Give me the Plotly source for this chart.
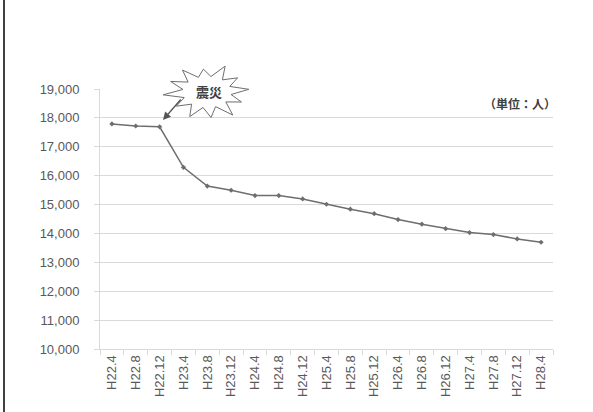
import numpy as np
import plotly.graph_objects as go

# Survey points (Heisei year.month) and population counts
periods = ["H22.4", "H22.8", "H22.12", "H23.4", "H23.8", "H23.12", "H24.4", "H24.8",
           "H24.12", "H25.4", "H25.8", "H25.12", "H26.4", "H26.8", "H26.12", "H27.4",
           "H27.8", "H27.12", "H28.4"]
population = [17790, 17720, 17690, 16290, 15640, 15495, 15310, 15310,
              15195, 15010, 14840, 14685, 14480, 14320, 14165, 14030,
              13960, 13810, 13695]
y_ticks = [10000, 11000, 12000, 13000, 14000, 15000, 16000, 17000, 18000, 19000]

W, H = 593, 412
L, R, T, B = 100, 40, 89, 63
pw, ph = W - L - R, H - T - B


def px(x):
    return (x - L) / pw


def py(y):
    return (H - B - y) / ph


grey_text = "#595959"
grid = "#d9d9d9"
tick_font = dict(family="Liberation Sans, Arial, sans-serif", size=13, color=grey_text)
jp_font = "Noto Sans CJK JP"

fig = go.Figure()
fig.add_trace(go.Scatter(
    x=periods, y=population, mode="lines+markers",
    line=dict(color="#6e6e6e", width=1.5),
    marker=dict(color="#6e6e6e", size=4, symbol="diamond"),
    showlegend=False, hoverinfo="x+y",
))

# starburst callout marking the earthquake
cx, cy = 207, 92
n = 12
outer_r = np.array([1.0, 0.9, 1.05, 0.85, 1.0, 0.95, 1.05, 0.9, 1.0, 0.95, 1.05, 0.9])
ang = np.linspace(0, 2 * np.pi, 2 * n, endpoint=False) + 0.1
pts = []
for i, a in enumerate(ang):
    r = outer_r[i // 2] if i % 2 == 0 else 0.58
    pts.append((cx + 42 * r * np.cos(a), cy - 27 * r * np.sin(a)))
path = "M " + " L ".join(f"{px(x):.4f},{py(y):.4f}" for x, y in pts) + " Z"
fig.add_shape(type="path", xref="paper", yref="paper", path=path,
              line=dict(color="#6e6e6e", width=1), fillcolor="white", layer="above")
fig.add_annotation(xref="paper", yref="paper", x=px(cx), y=py(cy), text="<b>震災</b>",
                   showarrow=False, xshift=-13, yshift=12,
                   font=dict(family=jp_font, size=13, color="#404040"))
fig.add_annotation(xref="paper", yref="paper", x=px(163), y=py(120), text="",
                   showarrow=True, axref="pixel", ayref="pixel", ax=19, ay=-22,
                   arrowhead=2, arrowsize=1.2, arrowwidth=1.3, arrowcolor="#555555")

# unit note
fig.add_annotation(xref="paper", yref="paper", x=px(549), y=py(104), xanchor="right",
                   text="<b>（単位：人）</b>", showarrow=False, xshift=9, yshift=11,
                   font=dict(family=jp_font, size=12, color="#404040"))

# frame line on the left edge of the page
fig.add_shape(type="line", xref="paper", yref="paper", x0=px(4), x1=px(4),
              y0=py(-5), y1=py(H + 5), line=dict(color="black", width=1.5))

fig.update_layout(
    width=W, height=H,
    margin=dict(l=L, r=R, t=T, b=B, autoexpand=False),
    paper_bgcolor="white", plot_bgcolor="white",
    xaxis=dict(
        type="category", range=[-0.5, len(periods) - 0.5],
        tickson="boundaries", ticks="outside", ticklen=5, tickcolor=grid,
        showline=True, linecolor=grid, linewidth=1, showgrid=False,
        tickangle=-90, tickfont=tick_font, automargin=False,
    ),
    yaxis=dict(
        range=[10000, 19000], tickvals=y_ticks,
        ticktext=[f"{v:,}" for v in y_ticks],
        ticks="outside", ticklen=5, tickcolor=grid,
        showline=True, linecolor=grid, linewidth=1,
        showgrid=True, gridcolor=grid, gridwidth=1, zeroline=False,
        tickfont=tick_font, ticklabelstandoff=12, automargin=False,
    ),
)

fig.write_html("out.html")
